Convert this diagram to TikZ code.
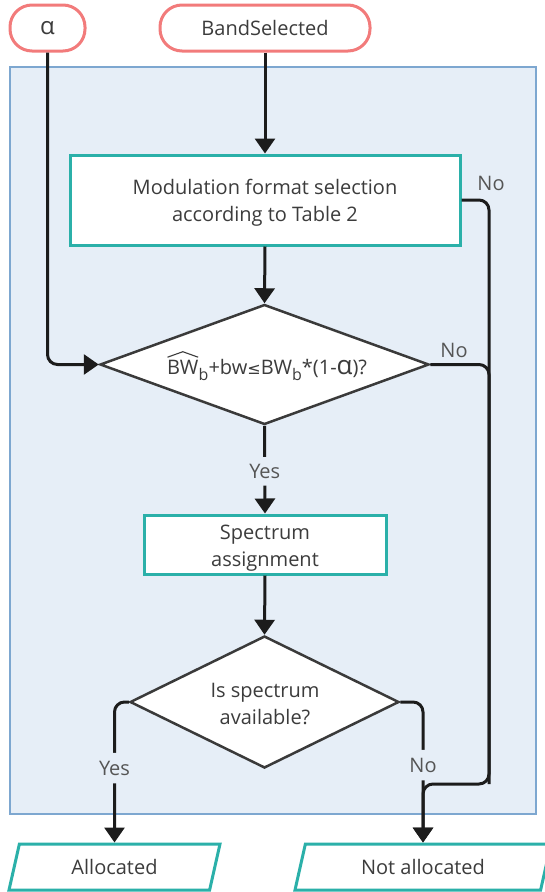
\documentclass[tikz,border=0pt]{standalone}
\usepackage{fontspec}
\setmainfont{Open Sans}
\newfontfamily\symfont{DejaVu Sans}
\usetikzlibrary{shapes.geometric,arrows.meta}

\definecolor{termline}{HTML}{F27B7B}
\definecolor{procline}{HTML}{2BB0A9}
\definecolor{panelfill}{HTML}{E6EEF7}
\definecolor{panelline}{HTML}{7DA7D0}
\definecolor{txt}{HTML}{3C3C3C}
\definecolor{lbl}{HTML}{555555}
\definecolor{wire}{HTML}{1C1C1C}
\definecolor{dline}{HTML}{3A3A3A}

% text with a wide hat drawn over it
\newcommand{\hatted}[1]{\tikz[baseline=(h.base)]{\node[inner sep=0pt, text=txt] (h) {#1};
  \draw[txt, line width=1.1pt, line join=miter] ([yshift=3pt,xshift=0.5pt]h.north west) -- ([yshift=8.5pt]h.north) -- ([yshift=3pt,xshift=-0.5pt]h.north east);}}
\newcommand{\subb}{\raisebox{-6pt}{\fontsize{16}{16}\selectfont b}}

\tikzset{
  x=1pt, y=-1pt,
  base/.style={text=txt, font=\fontsize{20}{27}\selectfont, align=center, inner sep=0pt},
  term/.style={base, draw=termline, line width=3pt, fill=white, rounded corners=22pt, minimum height=46pt},
  procbox/.style={base, draw=procline, line width=3pt, fill=white},
  decision/.style={base, diamond, draw=dline, line width=2.5pt, fill=white},
  iobox/.style={base, trapezium, trapezium stretches body, trapezium left angle=56, trapezium right angle=124,
    draw=procline, line width=3pt, fill=white, minimum height=46pt},
  wire/.style={draw=wire, line width=3pt, rounded corners=10pt},
  arr/.style={wire, -{Triangle[length=15pt, width=20pt]}},
  lab/.style={text=lbl, font=\fontsize{20}{20}\selectfont, inner sep=2pt},
}

\begin{document}
\begin{tikzpicture}
\useasboundingbox (0,0) rectangle (544,892);

% background panel
\draw[fill=panelfill, draw=panelline, line width=2pt] (10,67) rectangle (536,814);

% terminals
\node[term, minimum width=75pt] (alpha) at (47.5,28) {\fontsize{24}{24}\selectfont α};
\node[term, minimum width=210pt] (band) at (265,28) {BandSelected};

% process steps (shapes first, their texts placed on top)
\node[procbox, minimum width=390pt, minimum height=90pt] (mod) at (265,200) {};
\node[base] (modt) at (265,203) {Modulation format selection\\according to Table 2};
\node[decision, minimum width=329pt, minimum height=120pt] (d1) at (264.5,364.5) {};
\node[base] (d1t) at (267,366)
  {\hatted{BW}\subb+bw{\symfont\fontsize{16}{16}\selectfont ≤}BW\subb*(1-{\fontsize{26}{26}\selectfont α})?};
\node[procbox, minimum width=242pt, minimum height=59pt] (assign) at (265,544.5) {};
\node[base] (assignt) at (265,548) {Spectrum\\assignment};
\node[decision, minimum width=269pt, minimum height=132pt] (d2) at (264.5,702) {};
\node[base] (d2t) at (265,704) {Is spectrum\\available?};

% outcomes
\node[iobox, minimum width=211pt] (alloc) at (114.5,867) {\raisebox{-2pt}{Allocated}};
\node[iobox, minimum width=256pt] (notalloc) at (423,867) {\raisebox{-2pt}{Not allocated}};

% junction of the two rejection paths
\coordinate (j) at (489,784);

% connectors
\draw[arr] (band.south) -- (mod.north);
\draw[arr] (mod.south) -- (d1.north);
\draw[arr] (alpha.south) |- (d1.west);
\draw[arr] (d1.south) -- node[lab, fill=panelfill, inner sep=7pt, pos=0.52] {Yes} (assign.north);
\draw[arr] (assign.south) -- (d2.north);
\draw[arr] (d2.west) -| node[lab, fill=panelfill, inner sep=8pt, pos=0.735] {Yes} (alloc.north);
\draw[arr] (d2.east) -| node[lab, fill=panelfill, inner sep=8pt, pos=0.725] {No} (notalloc.north);
\draw[arr] (mod.east) -| (j) -| (notalloc.north);
\draw[wire] (d1.east) -| (j);

% labels on the rejection paths
\node[lab] (no1) at (491,183) {No};
\node[lab] (no2) at (454,350) {No};
\end{tikzpicture}
\end{document}
